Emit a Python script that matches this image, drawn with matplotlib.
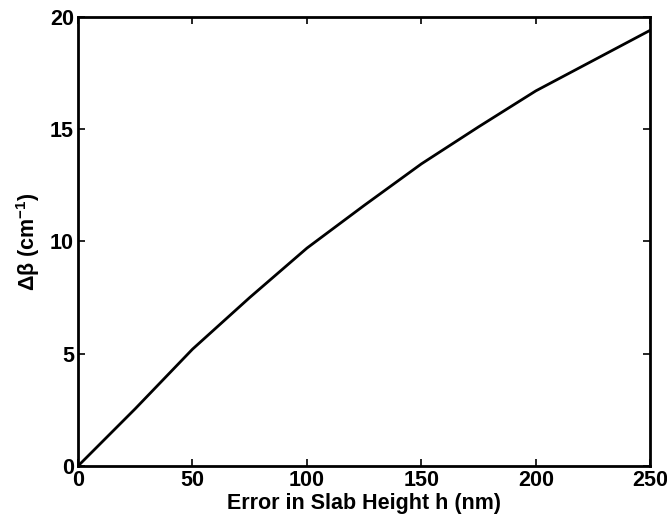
import matplotlib
matplotlib.use('Agg')
import matplotlib.pyplot as plt

# error in slab height (nm) and resulting delta beta (cm^-1)
h_err = [0, 25, 50, 75, 100, 125, 150, 175, 200, 225, 250]
dbeta = [0, 2.55, 5.2, 7.5, 9.7, 11.6, 13.45, 15.1, 16.7, 18.05, 19.4]

xticks = [0, 50, 100, 150, 200, 250]
yticks = [0, 5, 10, 15, 20]

plt.rcParams['font.family'] = ['Liberation Sans', 'DejaVu Sans']

fig = plt.figure(figsize=(6.67, 5.23), dpi=100)
ax = fig.add_axes([0.117, 0.109, 0.858, 0.859])

ax.plot(h_err, dbeta, color='black', linewidth=2)

ax.set_xlim(0, 250)
ax.set_ylim(0, 20)
ax.set_xticks(xticks)
ax.set_yticks(yticks)
ax.tick_params(direction='in', length=5, width=1.2, top=True, right=True,
               labelsize=15.5, pad=3)
for lab in ax.get_xticklabels() + ax.get_yticklabels():
    lab.set_fontweight('bold')
for s in ax.spines.values():
    s.set_linewidth(2)

ax.set_xlabel('Error in Slab Height h (nm)', fontsize=15.5, fontweight='bold', labelpad=1)
ax.set_ylabel('Δβ (cm$^{\\mathregular{-1}}$)', fontsize=15.5, fontweight='bold', labelpad=6)

fig.savefig('out.png', dpi=100)
